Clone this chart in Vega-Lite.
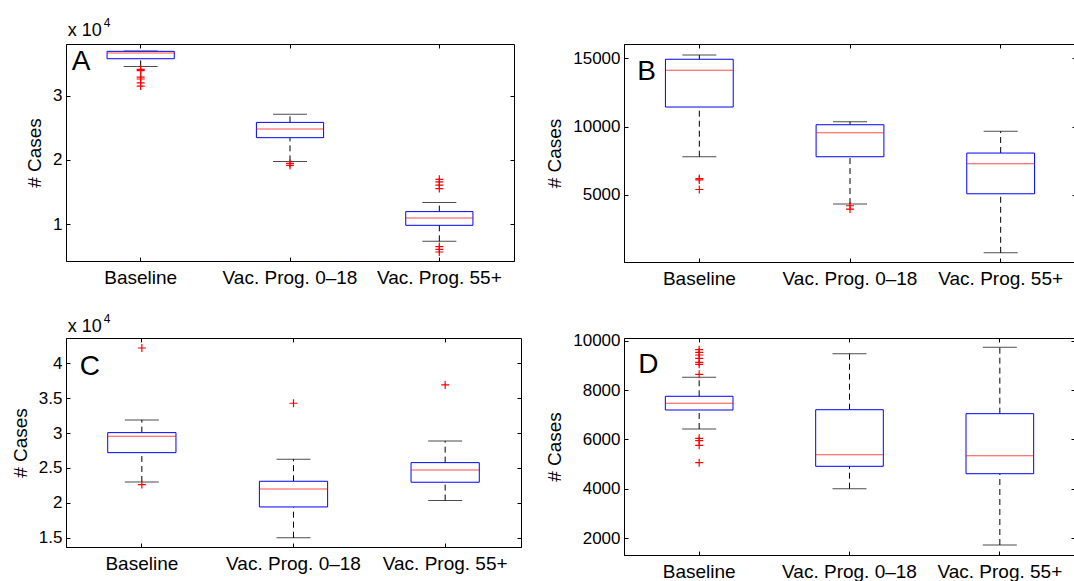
{
  "$schema": "https://vega.github.io/schema/vega-lite/v6.json",
  "padding": {"left": 10, "top": 16, "right": 0, "bottom": 0},
  "background": "white",
  "datasets": {
    "A_box": [
      {"cat": "Baseline", "lo": 34560, "q1": 35750, "med": 36640, "q3": 36900, "hi": 36950},
      {"cat": "Vac. Prog. 0–18", "lo": 19780, "q1": 23470, "med": 24820, "q3": 25850, "hi": 27100},
      {"cat": "Vac. Prog. 55+", "lo": 7350, "q1": 9840, "med": 10980, "q3": 11970, "hi": 13370}
    ],
    "A_out": [
      {"cat": "Baseline", "v": 34100}, {"cat": "Baseline", "v": 33900}, {"cat": "Baseline", "v": 32900},
      {"cat": "Baseline", "v": 32600}, {"cat": "Baseline", "v": 32000}, {"cat": "Baseline", "v": 31500},
      {"cat": "Vac. Prog. 0–18", "v": 19470}, {"cat": "Vac. Prog. 0–18", "v": 19160},
      {"cat": "Vac. Prog. 55+", "v": 17000}, {"cat": "Vac. Prog. 55+", "v": 16600}, {"cat": "Vac. Prog. 55+", "v": 16100},
      {"cat": "Vac. Prog. 55+", "v": 15550}, {"cat": "Vac. Prog. 55+", "v": 6530}, {"cat": "Vac. Prog. 55+", "v": 6110},
      {"cat": "Vac. Prog. 55+", "v": 5690}
    ],
    "B_box": [
      {"cat": "Baseline", "lo": 7800, "q1": 11435, "med": 14120, "q3": 14930, "hi": 15240},
      {"cat": "Vac. Prog. 0–18", "lo": 4334, "q1": 7797, "med": 9554, "q3": 10139, "hi": 10359},
      {"cat": "Vac. Prog. 55+", "lo": 768, "q1": 5088, "med": 7284, "q3": 8067, "hi": 9656}
    ],
    "B_out": [
      {"cat": "Baseline", "v": 6200}, {"cat": "Baseline", "v": 6100}, {"cat": "Baseline", "v": 5400},
      {"cat": "Vac. Prog. 0–18", "v": 4210}, {"cat": "Vac. Prog. 0–18", "v": 3968}
    ],
    "C_box": [
      {"cat": "Baseline", "lo": 22990, "q1": 27190, "med": 29540, "q3": 30060, "hi": 31880},
      {"cat": "Vac. Prog. 0–18", "lo": 15000, "q1": 19410, "med": 21990, "q3": 23090, "hi": 26250},
      {"cat": "Vac. Prog. 55+", "lo": 20320, "q1": 22950, "med": 24710, "q3": 25760, "hi": 28870}
    ],
    "C_out": [
      {"cat": "Baseline", "v": 42190}, {"cat": "Baseline", "v": 22610},
      {"cat": "Vac. Prog. 0–18", "v": 34270},
      {"cat": "Vac. Prog. 55+", "v": 36890}
    ],
    "D_box": [
      {"cat": "Baseline", "lo": 6425, "q1": 7194, "med": 7466, "q3": 7749, "hi": 8518},
      {"cat": "Vac. Prog. 0–18", "lo": 4008, "q1": 4915, "med": 5385, "q3": 7206, "hi": 9474},
      {"cat": "Vac. Prog. 55+", "lo": 1729, "q1": 4615, "med": 5344, "q3": 7045, "hi": 9733}
    ],
    "D_out": [
      {"cat": "Baseline", "v": 9636}, {"cat": "Baseline", "v": 9530}, {"cat": "Baseline", "v": 9421},
      {"cat": "Baseline", "v": 9287}, {"cat": "Baseline", "v": 9126}, {"cat": "Baseline", "v": 9045},
      {"cat": "Baseline", "v": 8640}, {"cat": "Baseline", "v": 6049}, {"cat": "Baseline", "v": 5951},
      {"cat": "Baseline", "v": 5765}, {"cat": "Baseline", "v": 5061}
    ],
    "labels": [{"A": "A", "B": "B", "C": "C", "D": "D", "mult": "x 10", "exp": "4"}]
  },
  "columns": 2,
  "spacing": {"row": 76, "column": 103},
  "bounds": "flush",
  "align": "all",
  "concat": [
    {
      "width": 448, "height": 217,
      "resolve": {"axis": {"x": "independent", "y": "independent"}},
      "layer": [
        {
          "layer": [
            {"data": {"name": "A_box"}, "mark": {"type": "rule", "strokeDash": [6, 4], "color": "black"},
             "encoding": {
               "x": {"field": "cat", "type": "nominal", "scale": {"domain": ["Baseline", "Vac. Prog. 0–18", "Vac. Prog. 55+"], "paddingInner": 0, "paddingOuter": 0}, "axis": {"title": null}},
               "y": {"field": "lo", "type": "quantitative", "scale": {"domain": [4290, 38040], "nice": false, "zero": false}, "axis": {"title": "# Cases", "values": [10000, 20000, 30000], "labelExpr": "format(datum.value/10000, '~g')"}},
               "y2": {"field": "q1"}}},
            {"data": {"name": "A_box"}, "mark": {"type": "rule", "strokeDash": [6, 4], "color": "black"},
             "encoding": {"x": {"field": "cat", "type": "nominal"}, "y": {"field": "q3", "type": "quantitative"}, "y2": {"field": "hi"}}},
            {"data": {"name": "A_box"}, "mark": {"type": "tick", "size": 34, "thickness": 1, "color": "black"},
             "encoding": {"x": {"field": "cat", "type": "nominal"}, "y": {"field": "lo", "type": "quantitative"}}},
            {"data": {"name": "A_box"}, "mark": {"type": "tick", "size": 34, "thickness": 1, "color": "black"},
             "encoding": {"x": {"field": "cat", "type": "nominal"}, "y": {"field": "hi", "type": "quantitative"}}},
            {"data": {"name": "A_box"}, "mark": {"type": "bar", "width": {"band": 0.45}, "fill": "white", "stroke": "#0000ff", "strokeWidth": 1},
             "encoding": {"x": {"field": "cat", "type": "nominal"}, "y": {"field": "q1", "type": "quantitative"}, "y2": {"field": "q3"}}},
            {"data": {"name": "A_box"}, "mark": {"type": "tick", "size": 67, "thickness": 1, "color": "#ff0000"},
             "encoding": {"x": {"field": "cat", "type": "nominal"}, "y": {"field": "med", "type": "quantitative"}}},
            {"data": {"name": "A_out"}, "mark": {"type": "point", "shape": "M-1,0H1M0,-1V1", "filled": false, "size": 64, "stroke": "#ff0000", "strokeWidth": 1.2, "opacity": 1},
             "encoding": {"x": {"field": "cat", "type": "nominal"}, "y": {"field": "v", "type": "quantitative"}}},
            {"data": {"name": "labels"}, "mark": {"type": "text", "fontSize": 28, "align": "left", "baseline": "alphabetic", "dx": -69, "font": "Liberation Sans"},
             "encoding": {"text": {"field": "A"}, "x": {"datum": "Baseline"}, "y": {"datum": 34040}}},
            {"data": {"name": "labels"}, "mark": {"type": "text", "fontSize": 18, "align": "left", "baseline": "alphabetic", "dx": -73, "dy": -8, "font": "Liberation Sans"},
             "encoding": {"text": {"field": "mult"}, "x": {"datum": "Baseline"}, "y": {"datum": 38040}}},
            {"data": {"name": "labels"}, "mark": {"type": "text", "fontSize": 12, "align": "left", "baseline": "alphabetic", "dx": -37, "dy": -17, "font": "Liberation Sans"},
             "encoding": {"text": {"field": "exp"}, "x": {"datum": "Baseline"}, "y": {"datum": 38040}}}
          ]
        },
        {"data": {"name": "A_box"}, "mark": {"type": "point", "opacity": 0},
         "encoding": {
           "x": {"field": "cat", "type": "nominal", "axis": {"orient": "top", "labels": false, "title": null, "domain": false}},
           "y": {"field": "med", "type": "quantitative", "axis": {"orient": "right", "labels": false, "title": null, "domain": false, "values": [10000, 20000, 30000]}}}}
      ]
    },
    {
      "width": 452, "height": 218,
      "resolve": {"axis": {"x": "independent", "y": "independent"}},
      "layer": [
        {
          "layer": [
            {"data": {"name": "B_box"}, "mark": {"type": "rule", "strokeDash": [6, 4], "color": "black"},
             "encoding": {
               "x": {"field": "cat", "type": "nominal", "scale": {"domain": ["Baseline", "Vac. Prog. 0–18", "Vac. Prog. 55+"], "paddingInner": 0, "paddingOuter": 0}, "axis": {"title": null}},
               "y": {"field": "lo", "type": "quantitative", "scale": {"domain": [95, 16047], "nice": false, "zero": false}, "axis": {"title": "# Cases", "values": [5000, 10000, 15000], "format": "d"}},
               "y2": {"field": "q1"}}},
            {"data": {"name": "B_box"}, "mark": {"type": "rule", "strokeDash": [6, 4], "color": "black"},
             "encoding": {"x": {"field": "cat", "type": "nominal"}, "y": {"field": "q3", "type": "quantitative"}, "y2": {"field": "hi"}}},
            {"data": {"name": "B_box"}, "mark": {"type": "tick", "size": 34, "thickness": 1, "color": "black"},
             "encoding": {"x": {"field": "cat", "type": "nominal"}, "y": {"field": "lo", "type": "quantitative"}}},
            {"data": {"name": "B_box"}, "mark": {"type": "tick", "size": 34, "thickness": 1, "color": "black"},
             "encoding": {"x": {"field": "cat", "type": "nominal"}, "y": {"field": "hi", "type": "quantitative"}}},
            {"data": {"name": "B_box"}, "mark": {"type": "bar", "width": {"band": 0.45}, "fill": "white", "stroke": "#0000ff", "strokeWidth": 1},
             "encoding": {"x": {"field": "cat", "type": "nominal"}, "y": {"field": "q1", "type": "quantitative"}, "y2": {"field": "q3"}}},
            {"data": {"name": "B_box"}, "mark": {"type": "tick", "size": 67, "thickness": 1, "color": "#ff0000"},
             "encoding": {"x": {"field": "cat", "type": "nominal"}, "y": {"field": "med", "type": "quantitative"}}},
            {"data": {"name": "B_out"}, "mark": {"type": "point", "shape": "M-1,0H1M0,-1V1", "filled": false, "size": 64, "stroke": "#ff0000", "strokeWidth": 1.2, "opacity": 1},
             "encoding": {"x": {"field": "cat", "type": "nominal"}, "y": {"field": "v", "type": "quantitative"}}},
            {"data": {"name": "labels"}, "mark": {"type": "text", "fontSize": 28, "align": "left", "baseline": "alphabetic", "dx": -62, "font": "Liberation Sans"},
             "encoding": {"text": {"field": "B"}, "x": {"datum": "Baseline"}, "y": {"datum": 13433}}}
          ]
        },
        {"data": {"name": "B_box"}, "mark": {"type": "point", "opacity": 0},
         "encoding": {
           "x": {"field": "cat", "type": "nominal", "axis": {"orient": "top", "labels": false, "title": null, "domain": false}},
           "y": {"field": "med", "type": "quantitative", "axis": {"orient": "right", "labels": false, "title": null, "domain": false, "values": [5000, 10000, 15000]}}}}
      ]
    },
    {
      "width": 455, "height": 209,
      "resolve": {"axis": {"x": "independent", "y": "independent"}},
      "layer": [
        {
          "layer": [
            {"data": {"name": "C_box"}, "mark": {"type": "rule", "strokeDash": [6, 4], "color": "black"},
             "encoding": {
               "x": {"field": "cat", "type": "nominal", "scale": {"domain": ["Baseline", "Vac. Prog. 0–18", "Vac. Prog. 55+"], "paddingInner": 0, "paddingOuter": 0}, "axis": {"title": null}},
               "y": {"field": "lo", "type": "quantitative", "scale": {"domain": [13670, 43620], "nice": false, "zero": false}, "axis": {"title": "# Cases", "values": [15000, 20000, 25000, 30000, 35000, 40000], "labelExpr": "format(datum.value/10000, '~g')"}},
               "y2": {"field": "q1"}}},
            {"data": {"name": "C_box"}, "mark": {"type": "rule", "strokeDash": [6, 4], "color": "black"},
             "encoding": {"x": {"field": "cat", "type": "nominal"}, "y": {"field": "q3", "type": "quantitative"}, "y2": {"field": "hi"}}},
            {"data": {"name": "C_box"}, "mark": {"type": "tick", "size": 34, "thickness": 1, "color": "black"},
             "encoding": {"x": {"field": "cat", "type": "nominal"}, "y": {"field": "lo", "type": "quantitative"}}},
            {"data": {"name": "C_box"}, "mark": {"type": "tick", "size": 34, "thickness": 1, "color": "black"},
             "encoding": {"x": {"field": "cat", "type": "nominal"}, "y": {"field": "hi", "type": "quantitative"}}},
            {"data": {"name": "C_box"}, "mark": {"type": "bar", "width": {"band": 0.45}, "fill": "white", "stroke": "#0000ff", "strokeWidth": 1},
             "encoding": {"x": {"field": "cat", "type": "nominal"}, "y": {"field": "q1", "type": "quantitative"}, "y2": {"field": "q3"}}},
            {"data": {"name": "C_box"}, "mark": {"type": "tick", "size": 68, "thickness": 1, "color": "#ff0000"},
             "encoding": {"x": {"field": "cat", "type": "nominal"}, "y": {"field": "med", "type": "quantitative"}}},
            {"data": {"name": "C_out"}, "mark": {"type": "point", "shape": "M-1,0H1M0,-1V1", "filled": false, "size": 64, "stroke": "#ff0000", "strokeWidth": 1.2, "opacity": 1},
             "encoding": {"x": {"field": "cat", "type": "nominal"}, "y": {"field": "v", "type": "quantitative"}}},
            {"data": {"name": "labels"}, "mark": {"type": "text", "fontSize": 28, "align": "left", "baseline": "alphabetic", "dx": -62, "font": "Liberation Sans"},
             "encoding": {"text": {"field": "C"}, "x": {"datum": "Baseline"}, "y": {"datum": 38320}}},
            {"data": {"name": "labels"}, "mark": {"type": "text", "fontSize": 18, "align": "left", "baseline": "alphabetic", "dx": -74, "dy": -6, "font": "Liberation Sans"},
             "encoding": {"text": {"field": "mult"}, "x": {"datum": "Baseline"}, "y": {"datum": 43620}}},
            {"data": {"name": "labels"}, "mark": {"type": "text", "fontSize": 12, "align": "left", "baseline": "alphabetic", "dx": -38, "dy": -15, "font": "Liberation Sans"},
             "encoding": {"text": {"field": "exp"}, "x": {"datum": "Baseline"}, "y": {"datum": 43620}}}
          ]
        },
        {"data": {"name": "C_box"}, "mark": {"type": "point", "opacity": 0},
         "encoding": {
           "x": {"field": "cat", "type": "nominal", "axis": {"orient": "top", "labels": false, "title": null, "domain": false}},
           "y": {"field": "med", "type": "quantitative", "axis": {"orient": "right", "labels": false, "title": null, "domain": false, "values": [15000, 20000, 25000, 30000, 35000, 40000]}}}}
      ]
    },
    {
      "width": 451, "height": 217,
      "resolve": {"axis": {"x": "independent", "y": "independent"}},
      "layer": [
        {
          "layer": [
            {"data": {"name": "D_box"}, "mark": {"type": "rule", "strokeDash": [6, 4], "color": "black"},
             "encoding": {
               "x": {"field": "cat", "type": "nominal", "scale": {"domain": ["Baseline", "Vac. Prog. 0–18", "Vac. Prog. 55+"], "paddingInner": 0, "paddingOuter": 0}, "axis": {"title": null}},
               "y": {"field": "lo", "type": "quantitative", "scale": {"domain": [1324, 10109], "nice": false, "zero": false}, "axis": {"title": "# Cases", "values": [2000, 4000, 6000, 8000, 10000], "format": "d"}},
               "y2": {"field": "q1"}}},
            {"data": {"name": "D_box"}, "mark": {"type": "rule", "strokeDash": [6, 4], "color": "black"},
             "encoding": {"x": {"field": "cat", "type": "nominal"}, "y": {"field": "q3", "type": "quantitative"}, "y2": {"field": "hi"}}},
            {"data": {"name": "D_box"}, "mark": {"type": "tick", "size": 34, "thickness": 1, "color": "black"},
             "encoding": {"x": {"field": "cat", "type": "nominal"}, "y": {"field": "lo", "type": "quantitative"}}},
            {"data": {"name": "D_box"}, "mark": {"type": "tick", "size": 34, "thickness": 1, "color": "black"},
             "encoding": {"x": {"field": "cat", "type": "nominal"}, "y": {"field": "hi", "type": "quantitative"}}},
            {"data": {"name": "D_box"}, "mark": {"type": "bar", "width": {"band": 0.45}, "fill": "white", "stroke": "#0000ff", "strokeWidth": 1},
             "encoding": {"x": {"field": "cat", "type": "nominal"}, "y": {"field": "q1", "type": "quantitative"}, "y2": {"field": "q3"}}},
            {"data": {"name": "D_box"}, "mark": {"type": "tick", "size": 68, "thickness": 1, "color": "#ff0000"},
             "encoding": {"x": {"field": "cat", "type": "nominal"}, "y": {"field": "med", "type": "quantitative"}}},
            {"data": {"name": "D_out"}, "mark": {"type": "point", "shape": "M-1,0H1M0,-1V1", "filled": false, "size": 64, "stroke": "#ff0000", "strokeWidth": 1.2, "opacity": 1},
             "encoding": {"x": {"field": "cat", "type": "nominal"}, "y": {"field": "v", "type": "quantitative"}}},
            {"data": {"name": "labels"}, "mark": {"type": "text", "fontSize": 28, "align": "left", "baseline": "alphabetic", "dx": -61, "font": "Liberation Sans"},
             "encoding": {"text": {"field": "D"}, "x": {"datum": "Baseline"}, "y": {"datum": 8692}}}
          ]
        },
        {"data": {"name": "D_box"}, "mark": {"type": "point", "opacity": 0},
         "encoding": {
           "x": {"field": "cat", "type": "nominal", "axis": {"orient": "top", "labels": false, "title": null, "domain": false}},
           "y": {"field": "med", "type": "quantitative", "axis": {"orient": "right", "labels": false, "title": null, "domain": false, "values": [2000, 4000, 6000, 8000, 10000]}}}}
      ]
    }
  ],
  "config": {
    "font": "Liberation Sans",
    "view": {"stroke": "black", "strokeWidth": 1},
    "axis": {
      "labelFont": "Liberation Sans", "titleFont": "Liberation Sans",
      "domainColor": "black", "tickColor": "black", "labelColor": "black", "titleColor": "black",
      "grid": false, "tickSize": -4, "titleFontWeight": "normal"
    },
    "axisX": {"labelFontSize": 19, "labelPadding": 11, "labelAngle": 0},
    "axisY": {"labelFontSize": 17, "titleFontSize": 19, "labelPadding": 8, "titlePadding": 8}
  }
}
